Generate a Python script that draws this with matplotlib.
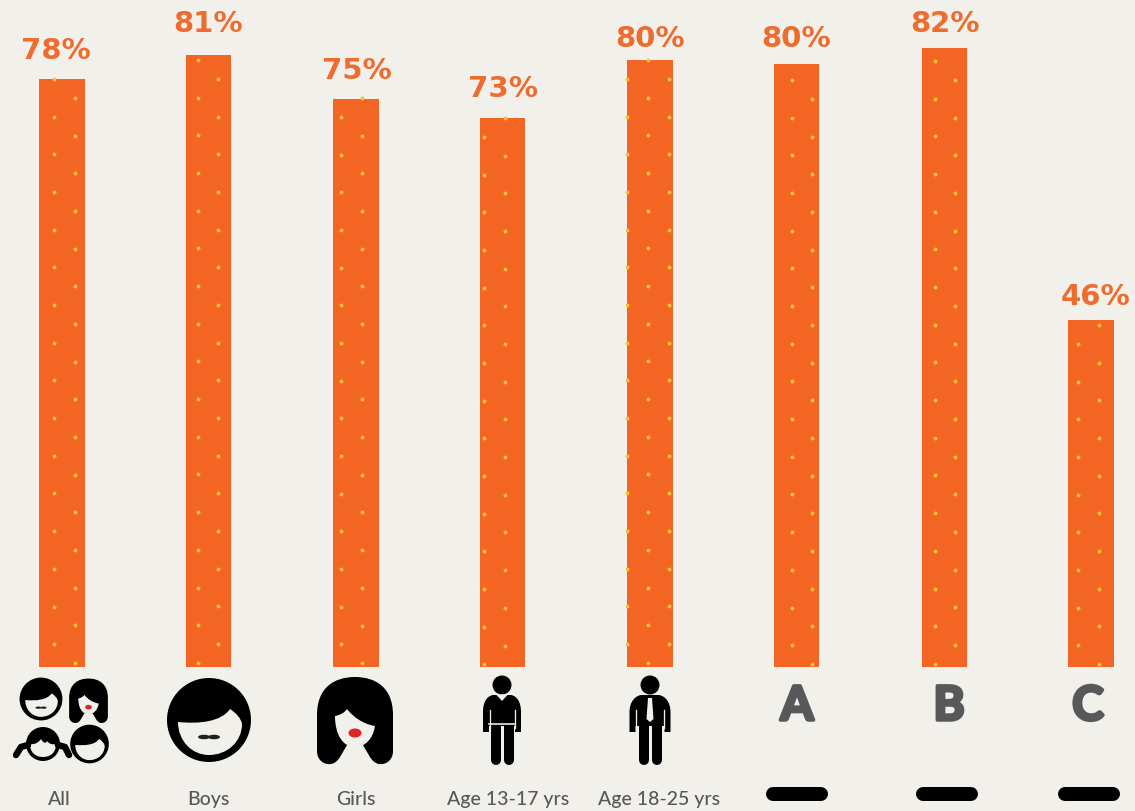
import matplotlib
matplotlib.use('Agg')
import matplotlib.pyplot as plt
import matplotlib.patheffects as pe
from matplotlib.path import Path
from matplotlib.patches import PathPatch, Circle, Ellipse

# chart values
bar_values = [77.9, 81.1, 75.2, 72.7, 80.4, 79.9, 82.0, 46.0]
value_labels = ['78%', '81%', '75%', '73%', '80%', '80%', '82%', '46%']
group_labels = ['All', 'Boys', 'Girls', 'Age 13-17 yrs', 'Age 18-25 yrs']
letters = ['A', 'B', 'C']

# layout, in pixels
bar_x = [62, 208.5, 356, 502.5, 650, 796.5, 944.5, 1091]
label_dx = [-6, 0, 1, 0, 0, 0, 1, 5]
label_dy = [29, 32, 29, 30, 22, 26, 25, 24]
group_x = [59, 208, 356, 508, 659]
letter_x = [797, 949, 1088]
dash_x = [796.5, 946.5, 1089]

# dot pattern of each bar: first row, then the two alternating columns
dot_first_y = [80, 61, 99, 119, 61, 81, 62, 326]
dot_col_a = [[54], [198], [362], [505], [648], [792], [935], [1099]]
dot_col_b = [[75], [218], [341], [484], [627, 669], [812], [955], [1078]]

BG = '#f2f0ea'
ORANGE = '#f26522'
TEXT_ORANGE = '#ee6c30'
GREY = '#58585a'
PX = 72 / 100.0  # px to pt at dpi 100
BASE = 668
SCALE = 7.55

fig = plt.figure(figsize=(11.35, 8.12), dpi=100, facecolor=BG)

# bars on a value axis, the zero sits at the bars' foot
ax = fig.add_axes([0, 0, 1, 1])
ax.set_xlim(0, 1135)
ax.set_ylim(-(812 - BASE) / SCALE, BASE / SCALE)
ax.axis('off')
ax.bar(bar_x, bar_values, width=45.5, color=ORANGE, zorder=1)

# overlay in image pixels for the text and icons
ov = fig.add_axes([0, 0, 1, 1])
ov.set_xlim(0, 1135)
ov.set_ylim(812, 0)
ov.axis('off')
ov.patch.set_alpha(0)

# small yellow dots on the bars
for i in range(len(bar_x)):
    py = dot_first_y[i]
    col = 0
    while py < BASE:
        xs = dot_col_a[i] if col == 0 else dot_col_b[i]
        ov.scatter(xs, [py] * len(xs), s=8, color='#f9bd3a', linewidths=0, zorder=2)
        py += 18.84
        col = 1 - col

for i, x in enumerate(bar_x):
    top = BASE - bar_values[i] * SCALE
    ov.text(x + label_dx[i], top - label_dy[i], value_labels[i], color=TEXT_ORANGE, fontsize=21,
            family='DejaVu Sans', weight='bold', ha='center', va='center')

for x, s in zip(group_x, group_labels):
    ov.text(x, 800, s, color=GREY, fontsize=14, family='Lato', weight='medium', ha='center', va='center')

# the letters are heavier than any Lato weight, so thicken them with a stroke
for x, s in zip(letter_x, letters):
    t = ov.text(x, 707, s, color=GREY, fontsize=34, family='Lato', weight='bold', ha='center', va='center')
    t.set_path_effects([pe.withStroke(linewidth=2.5, foreground=GREY)])

for x in dash_x:
    ov.plot([x - 24, x + 24], [794.5, 794.5], color='black', lw=14 * PX, solid_capstyle='round')


def shape(segs, cx, cy, s, color):
    # segs: first point, then points or bezier triples
    verts = []
    codes = []
    for n, seg in enumerate(segs):
        if n == 0:
            verts.append(seg)
            codes.append(Path.MOVETO)
        elif len(seg) == 2:
            verts.append(seg)
            codes.append(Path.LINETO)
        else:
            verts += [seg[0:2], seg[2:4], seg[4:6]]
            codes += [Path.CURVE4] * 3
    verts.append(verts[0])
    codes.append(Path.CLOSEPOLY)
    verts = [(cx + a * s, cy + b * s) for a, b in verts]
    ov.add_patch(PathPatch(Path(verts, codes), fc=color, ec='none'))


def boy(cx, cy, s, tash=True):
    ov.add_patch(Circle((cx, cy), 42 * s, fc='black', ec='none'))
    shape([(-31, 2), (-10, 4, 12, 2, 21, -11), (27, -7, 32, -2, 33, 4),
           (33, 22, 18, 35, 0, 35), (-18, 35, -31, 20, -31, 2)], cx, cy, s, BG)
    if tash:
        ov.add_patch(Ellipse((cx - 5 * s, cy + 17 * s), 12 * s, 4.5 * s, fc='#222222', ec='none'))
        ov.add_patch(Ellipse((cx + 5 * s, cy + 17 * s), 12 * s, 4.5 * s, fc='#222222', ec='none'))


def girl(cx, cy, s):
    shape([(-38, 30), (-38, -6), (-38, -34, -20, -44, 0, -44), (20, -44, 38, -34, 38, -6), (38, 30),
           (38, 40, 30, 44, 24, 43), (16, 42, 12, 30, 8, 24), (-8, 24),
           (-12, 30, -16, 42, -24, 43), (-30, 44, -38, 40, -38, 30)], cx, cy, s, 'black')
    shape([(-20, -5), (-14, -6, -10, -9, -8, -12), (-2, -4, 8, 3, 20, 5),
           (18, 18, 10, 26, 0, 26), (-12, 26, -20, 14, -20, -5)], cx, cy, s, BG)
    ov.add_patch(Ellipse((cx, cy + 12 * s), 13 * s, 9 * s, fc='#e2232a', ec='none'))


def person(cx, tie=False):
    w = 20.5 if tie else 19
    ov.add_patch(Circle((cx, 686), 9.5, fc='black', ec='none'))
    # body with the arms, as one outline
    shape([(-9, 696), (9, 696), (15, 697, w, 703, w, 713), (w, 733), (w - 6, 733), (w - 6, 727),
           (6 - w, 727), (6 - w, 733), (-w, 733), (-w, 713), (-w, 703, -15, 697, -9, 696)], cx, 0, 1, 'black')
    ov.plot([cx - 6.5, cx - 6.5], [727, 760.5], color='black', lw=10 * PX, solid_capstyle='round')
    ov.plot([cx + 6.5, cx + 6.5], [727, 760.5], color='black', lw=10 * PX, solid_capstyle='round')
    # slits between arm and body
    for d in (-1, 1):
        ov.plot([cx + d * (w - 6.5)] * 2, [711, 729], color=BG, lw=1.3 * PX)
    if tie:
        shape([(-2, 699), (2, 699), (3.5, 720), (0, 723), (-3.5, 720)], cx, 0, 1, BG)
    else:
        shape([(-6, 695.5), (6, 695.5), (0, 702)], cx, 0, 1, BG)
        ov.plot([cx - 13, cx + 13], [725, 725], color=BG, lw=1.6 * PX)


# All, four little heads
boy(41, 700, 0.51)
girl(88.5, 702, 0.51)
ov.add_patch(Circle((43, 745), 17, fc='black', ec='none'))
shape([(-13, 0), (-8, 1, -4, -2, -2, -5), (0, -1, 3, 0, 4, -3), (6, 0, 10, 1, 13, 0),
       (13, 9, 7, 13, 0, 13), (-7, 13, -13, 9, -13, 0)], 43, 745, 1, BG)
ov.plot([28, 21, 16], [746, 748, 756], color='black', lw=6.5 * PX, solid_capstyle='round')
ov.plot([58, 65, 69], [746, 748, 756], color='black', lw=6.5 * PX, solid_capstyle='round')
boy(89.5, 745, 0.46, tash=False)

boy(209, 721, 1.0)
girl(355, 722, 1.0)
person(502)
person(650, tie=True)

fig.savefig('out.png', dpi=100, facecolor=BG)
